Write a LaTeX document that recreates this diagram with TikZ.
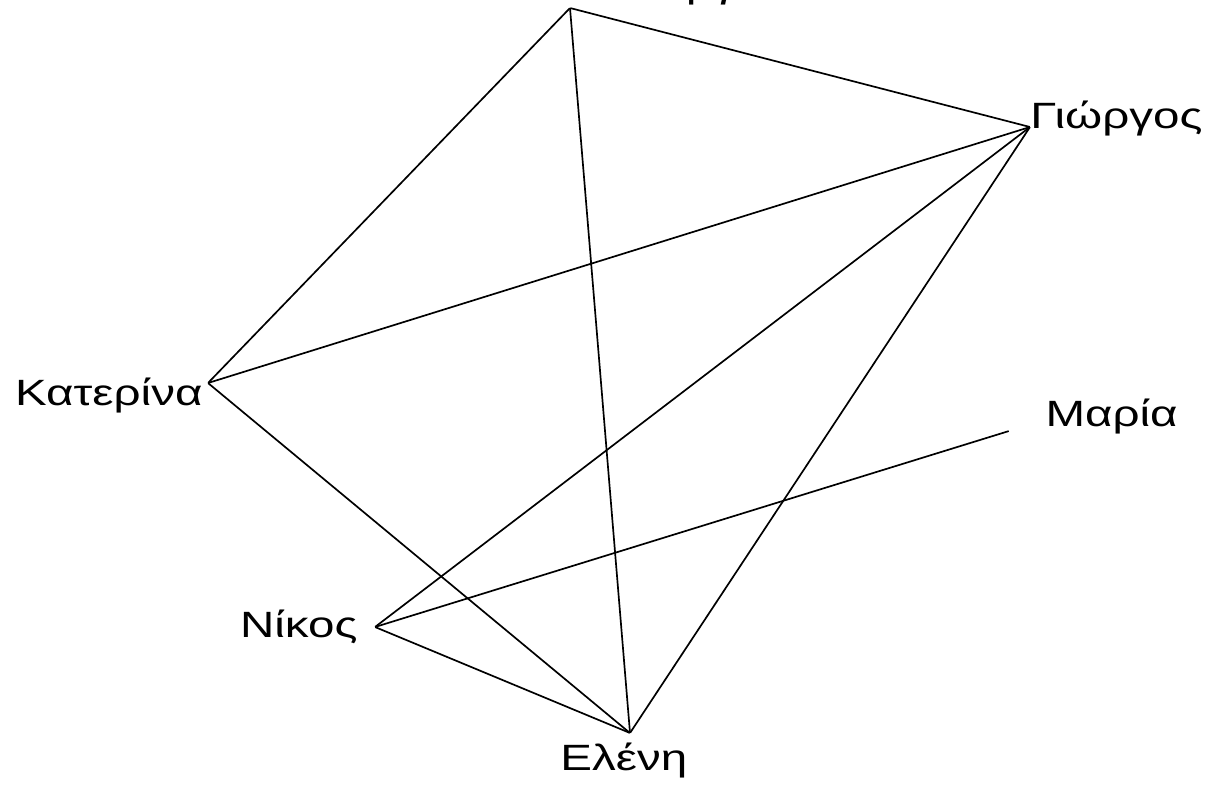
\documentclass[tikz,border=0pt]{standalone}
\usepackage{fontspec}
\setmainfont{Liberation Sans}
\usetikzlibrary{positioning}
\newcommand{\widename}[1]{\scalebox{1.3}[1]{#1}}
\tikzset{
  pt/.style={circle,inner sep=0pt,minimum size=0pt},
  nm/.style={inner sep=0pt,font=\fontsize{26pt}{30pt}\selectfont},
  tie/.style={line width=1.2pt,black}
}

\begin{document}
\begin{tikzpicture}[x=0.025cm,y=-0.025cm]
  \useasboundingbox (0,0) rectangle (1207,784);
  % people
  \node[pt] (georgia)  at (570,8)    {};
  \node[pt] (giorgos)  at (1030,127) {};
  \node[pt] (katerina) at (208,383)  {};
  \node[pt] (maria)    at (1009,431) {};
  \node[pt] (nikos)    at (375,627)  {};
  \node[pt] (eleni)    at (630,733)  {};

  % names
  \node[nm,above right=0.25cm and 0.775cm of georgia,anchor=base west] (georgiaN) {\widename{Γεωργία}};
  \node[nm,below right=0.025cm and 0pt of giorgos,anchor=base west] (giorgosN) {\widename{Γιώργος}};
  \node[nm,below left=0.55cm and 0.125cm of katerina,anchor=base east] (katerinaN) {\widename{Κατερίνα}};
  \node[nm,above right=0.1cm and 0.9cm of maria,anchor=base west] (mariaN) {\widename{Μαρία}};
  \node[nm,below left=0.25cm and 0.425cm of nikos,anchor=base east] (nikosN) {\widename{Νίκος}};
  \node[nm,below left=0.925cm and 0.15cm of eleni,anchor=base] (eleniN) {\widename{Ελένη}};

  % ties
  \draw[tie] (georgia) -- (giorgos);
  \draw[tie] (georgia) -- (katerina);
  \draw[tie] (georgia) -- (eleni);
  \draw[tie] (giorgos) -- (katerina);
  \draw[tie] (giorgos) -- (nikos);
  \draw[tie] (giorgos) -- (eleni);
  \draw[tie] (katerina) -- (eleni);
  \draw[tie] (nikos) -- (maria);
  \draw[tie] (nikos) -- (eleni);
\end{tikzpicture}
\end{document}
